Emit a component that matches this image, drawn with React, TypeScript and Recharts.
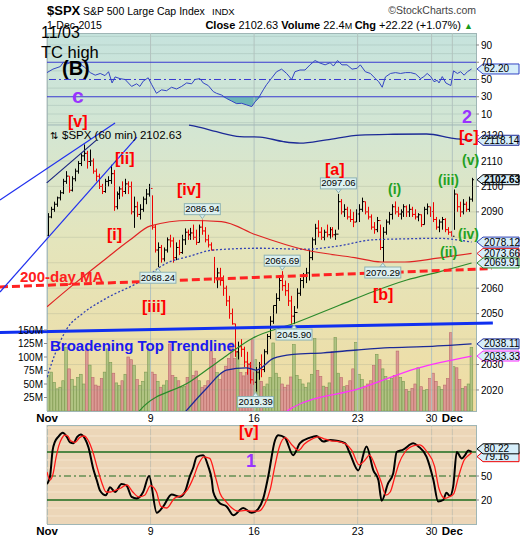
import React from "react";
import {
  ComposedChart,
  Line,
  Bar,
  Area,
  XAxis,
  YAxis,
  ReferenceLine,
  ReferenceDot
} from "recharts";

const FONT = '"Liberation Sans", Arial, sans-serif';

// 60 min bars, Nov 2 - Dec 1 2015 (7 per session, 4 on Nov 27)
const barHigh = [
  2089.5, 2092, 2094, 2096, 2098.5, 2103, 2106,
  2104, 2104, 2107, 2110, 2113, 2116.5, 2114,
  2114.5, 2111, 2107, 2105, 2101, 2103, 2104,
  2108.5, 2106.5, 2098, 2100, 2102, 2103, 2102,
  2101.9, 2096, 2094, 2093, 2096, 2099, 2101,
  2096.5, 2085, 2078, 2077, 2076, 2080, 2081,
  2080, 2078, 2079, 2081, 2083.5, 2083, 2083.7,
  2085, 2083, 2085, 2086.94, 2084, 2081, 2078,
  2072.3, 2068, 2068, 2065, 2061, 2057, 2052,
  2046, 2039, 2040, 2037, 2035, 2031, 2027,
  2029, 2031, 2034, 2036, 2042, 2049, 2053.2,
  2058, 2064, 2066.69, 2063, 2062, 2057, 2053,
  2060, 2064, 2066, 2068, 2075, 2080, 2085.3,
  2086.7, 2084, 2083, 2085, 2084, 2084, 2083,
  2097.06, 2095, 2093, 2092, 2091, 2090, 2091,
  2093, 2095.6, 2094, 2092, 2089, 2086, 2088,
  2085, 2084, 2087, 2090, 2093, 2094.1, 2092,
  2091, 2093, 2092.5, 2093, 2092, 2091, 2089.5,
  2089, 2092, 2093.3, 2092,
  2093.8, 2088, 2087, 2088, 2087.5, 2084, 2082.5,
  2098.8, 2097, 2094, 2095, 2094, 2096, 2103.37
];
const barLow = [
  2080.5, 2087.5, 2090, 2092, 2094.5, 2097, 2101,
  2097.5, 2098, 2102, 2105, 2108, 2110, 2107,
  2108, 2105, 2102, 2099, 2097, 2097.5, 2100,
  2101, 2090.4, 2091, 2095, 2096, 2097, 2097,
  2089, 2083.7, 2088, 2087, 2090, 2093, 2096,
  2083, 2074, 2068.24, 2070, 2070.5, 2074, 2076,
  2070, 2071, 2073, 2073.5, 2077, 2079, 2079,
  2079, 2077, 2078, 2081, 2078, 2076, 2074.85,
  2062, 2060, 2061, 2057, 2053, 2048, 2045.66,
  2033, 2032, 2033, 2029, 2026, 2022.5, 2022,
  2019.39, 2024, 2025, 2027, 2034, 2040, 2046,
  2050, 2055, 2059, 2057, 2053, 2046, 2045.9,
  2052, 2057, 2060, 2062, 2063, 2071, 2077,
  2080, 2079, 2078.8, 2080, 2079.5, 2080, 2079,
  2083, 2089, 2088, 2087, 2086, 2084, 2086,
  2086, 2090, 2089, 2087, 2083, 2081.4, 2082,
  2075, 2070.29, 2081, 2085, 2087, 2089, 2088,
  2087, 2088, 2088, 2088, 2088, 2087, 2086.3,
  2084.1, 2085, 2089, 2088,
  2086, 2083, 2082, 2083, 2082, 2081, 2080.41,
  2082.93, 2090, 2088, 2089, 2090, 2090, 2094
];
const barClose = [
  2088, 2091, 2093, 2095.5, 2097.5, 2102, 2104.05,
  2098.5, 2103, 2106, 2109, 2112, 2113, 2109.79,
  2110, 2106, 2104, 2100, 2098, 2102, 2102.31,
  2105, 2092, 2097, 2099, 2098, 2101, 2099.93,
  2090, 2092, 2089, 2091, 2095, 2097, 2099.2,
  2084, 2075, 2076, 2071.5, 2075, 2079, 2078.58,
  2072, 2076, 2074, 2079, 2082, 2081, 2081.72,
  2080, 2078, 2084, 2082.5, 2079, 2077, 2075,
  2064, 2066, 2063, 2060, 2055, 2050, 2045.97,
  2035, 2037, 2036, 2031, 2030, 2024, 2023.04,
  2027, 2030, 2028, 2035, 2041, 2047, 2053.19,
  2056, 2063, 2061, 2059, 2055, 2049, 2050.44,
  2058, 2063, 2065, 2066, 2072, 2079, 2083.58,
  2082, 2080, 2082, 2081, 2083, 2081, 2081.24,
  2094, 2090, 2091, 2088, 2087, 2086, 2089.17,
  2091, 2094, 2090, 2088, 2084, 2083, 2086.59,
  2076, 2082, 2086, 2089, 2092, 2090, 2089.14,
  2090, 2092, 2090, 2091, 2089, 2088, 2088.87,
  2085, 2091, 2092, 2090.11,
  2087, 2084, 2086, 2087, 2083, 2082, 2080.41,
  2097, 2092, 2090, 2093, 2091, 2095, 2102.63
];
const firstOpen = 2080.76;

// volume per bar, millions
const volume = [
  66, 72, 53, 41, 44, 56, 118,
  78, 58, 46, 62, 68, 50, 115,
  85, 62, 48, 46, 60, 72, 115,
  90, 70, 52, 47, 56, 68, 100,
  95, 84, 58, 47, 55, 72, 115,
  72, 68, 55, 44, 48, 56, 124,
  66, 62, 56, 44, 46, 62, 112,
  66, 74, 56, 44, 47, 56, 110,
  97, 71, 58, 71, 83, 97, 126,
  97, 108, 71, 65, 71, 88, 132,
  95, 70, 55, 45, 50, 62, 126,
  70, 62, 50, 44, 48, 63, 123,
  66, 58, 50, 44, 52, 68, 134,
  75, 64, 46, 44, 52, 110, 136,
  70, 62, 45, 47, 56, 78, 127,
  68, 58, 46, 50, 56, 84, 105,
  95, 78, 64, 56, 60, 66, 111,
  62, 55, 40, 36, 42, 50, 80,
  45, 38, 40, 60,
  70, 55, 45, 40, 48, 60, 145,
  82, 80, 58, 42, 45, 50, 118
];

const dayTicks = [0, 35, 70, 105, 130, 137];
const dayLabels = ["Nov", "9", "16", "23", "30", "Dec"];
const priceTicks = [2020, 2030, 2050, 2060, 2090, 2100, 2110, 2120];
const priceGrid = [2020, 2030, 2040, 2050, 2060, 2070, 2080, 2090, 2100, 2110];
const rsiTicks = [10, 30, 50, 70, 90];
const volTicks = [25, 50, 75, 100, 125, 150];
const stoTicks = [20, 50];

// indicator lines as [bar position, value]
const rsi14 = [
  [0, 58], [2, 62], [4.5, 65], [5.5, 70], [6.7, 68], [7.9, 69.5], [9.5, 69], [11.2, 68],
  [12.8, 64], [14.6, 58], [16.3, 55], [18, 57], [19.6, 54.5], [20.8, 59], [22, 46], [23, 53],
  [24.7, 51], [26.4, 50], [27.5, 46], [28.6, 42], [30.3, 45], [31.4, 42], [32.5, 48], [34.2, 52],
  [35.4, 44], [37, 34], [38.7, 38], [40.4, 37], [42.1, 41], [43.8, 39], [45.5, 42], [47.2, 46],
  [48.9, 45], [50, 50], [51.7, 51], [52.8, 46], [54.5, 43], [56.2, 36], [57.3, 34], [59, 32],
  [60.7, 28], [62.4, 25], [64.1, 22], [65.8, 22.4], [67.5, 20.5], [69.2, 18.6], [70.3, 24],
  [71.4, 28], [73.1, 38], [74.2, 44], [75.9, 51.5], [77.6, 59], [79.3, 62], [81, 57], [82.7, 50],
  [83.8, 59], [85.5, 61], [87.2, 61], [88.9, 67], [90.6, 72], [92.3, 69], [94, 67], [95.7, 69.5],
  [96.8, 65.6], [98.2, 72], [99.7, 67], [101.4, 67], [103.1, 62], [104.8, 63], [105.9, 67],
  [107.6, 59], [109.3, 57], [111, 51], [112.1, 47.5], [113.3, 41], [114.4, 53], [116.1, 57],
  [117.8, 58], [119.5, 57], [121.2, 58], [122.9, 58], [124.6, 56.4], [126.3, 51], [127.4, 53.4],
  [128.5, 57], [129.7, 53.4], [130.8, 47.5], [131.9, 49], [132.5, 46], [133.6, 53.4], [134.8, 46],
  [135.9, 44], [136.5, 43], [137.4, 60], [138.7, 57], [139.8, 59], [141, 55], [142.1, 59],
  [143.5, 62.2]
];
const maRed = [
  [0, 2052.7], [8.8, 2061.3], [20, 2071.7], [28, 2078.9], [35, 2084.5], [48, 2086.6],
  [59, 2086.2], [70.6, 2081], [87.4, 2075], [104, 2072], [113, 2070.3], [121, 2070.3],
  [132, 2071.8], [143.5, 2073.66]
];
const maDotted = [
  [0, 2025], [3, 2035], [6.7, 2044], [12, 2050], [20, 2056], [31.4, 2062.6], [40.4, 2069.8],
  [48, 2072.5], [56.2, 2075], [72, 2075.7], [87.4, 2075.3], [98, 2076.5], [110, 2079],
  [121, 2079.4], [132, 2079.6], [143.5, 2078.12]
];
const maGreen = [
  [28, 2005], [31.4, 2012], [48.3, 2023.2], [59.5, 2032.5], [69.6, 2040.4], [83.1, 2046],
  [99, 2053.4], [110.2, 2058.6], [121.6, 2063.2], [132.8, 2066.5], [143.5, 2069.91]
];
const bandTop = [
  [48, 2124.1], [50.6, 2123.5], [57.3, 2121.5], [65.2, 2119.6], [72, 2119.4], [79.9, 2117.6],
  [85.5, 2117], [94.5, 2118.3], [105.8, 2120.2], [117, 2120.5], [128.3, 2120.6],
  [137.3, 2118.9], [143.5, 2118.14]
];
const bandLow = [
  [45, 2009], [53.9, 2020.6], [60.6, 2027.8], [67.3, 2028.7], [70.7, 2027.8], [76.5, 2032.4],
  [83.2, 2034], [93.4, 2034.6], [104.7, 2035.7], [115.9, 2036.6], [127.2, 2037], [143.5, 2038.11]
];
const maPink = [
  [81, 2011.5], [82.7, 2012.9], [105.8, 2020.6], [125, 2028.5], [143.5, 2033.33]
];
const stoK = [
  [0, 40], [1, 49], [1.9, 82], [2.7, 93], [3.8, 99], [5.3, 104], [6.7, 99], [7.8, 92], [8.9, 91],
  [10.2, 99], [11.4, 102], [12.8, 97], [14, 86], [15.7, 58], [16.8, 45], [17.9, 32], [19.9, 26],
  [21.3, 36], [23, 30], [25.2, 40], [26.9, 38], [28.6, 24], [30.3, 22], [32.5, 30], [34.5, 50],
  [37.1, 4], [39.3, 12], [42.1, 27], [44.9, 24], [46.6, 30], [48.3, 50], [49.4, 60], [50.6, 74],
  [52.8, 76], [54.5, 62], [55.7, 45], [56.2, 30], [58.4, 16], [60.7, 12], [63, 1], [66.3, 10],
  [69.2, 4], [71.4, 9], [73.1, 22], [74.8, 50], [77.1, 95], [78.2, 101], [80.4, 98], [83.2, 76],
  [85.5, 91], [88.9, 98], [91.1, 100], [93.4, 93], [95.6, 95], [97.9, 94], [100.7, 91],
  [102.4, 78], [105.2, 57], [108, 87], [110.3, 57], [112, 45], [113.1, 19], [115.3, 41],
  [117, 53], [118.2, 80], [120.4, 83], [123.8, 91], [125.5, 87], [128.3, 74], [130.6, 45],
  [132.2, 18], [133.9, 20], [135, 29], [136.2, 25], [137.3, 37], [138.5, 80], [140.2, 72],
  [141.3, 76], [142.4, 82], [143.5, 80.22]
];
const stoD = [
  [0, 55], [1, 45], [2, 52], [3, 72], [4, 88], [5, 97], [6, 101], [7, 100], [8, 94], [9.5, 92],
  [11, 98], [12.5, 100], [14, 94], [15.5, 80], [17, 60], [18.5, 42], [20, 30], [21.5, 30],
  [23, 32], [25, 35], [27, 39], [29, 30], [31, 24], [33, 26], [35, 38], [37, 30], [38.5, 12],
  [40.5, 10], [43, 22], [45.5, 26], [47.5, 33], [49.5, 48], [51, 63], [53, 74], [55, 72],
  [57, 48], [58.5, 28], [60.5, 18], [62.5, 10], [64.5, 6], [67, 7], [69.5, 6], [71.5, 6],
  [73.5, 14], [75.5, 34], [77, 62], [78.5, 86], [80.5, 98], [83, 88], [85, 82], [87, 90],
  [89.5, 96], [91.5, 99], [94, 96], [96, 94], [98.5, 93], [101, 90], [103, 82], [105.5, 64],
  [107.5, 70], [109, 76], [111, 62], [113, 42], [114.5, 26], [116, 30], [117.5, 48], [119, 66],
  [121, 80], [124, 88], [126, 89], [128.5, 80], [131, 62], [132.5, 34], [134.5, 22], [136, 24],
  [137.5, 28], [139, 48], [141, 70], [142.5, 76], [143.5, 79.16]
];

// hand drawn lines: [[x1, y1], [x2, y2]] in bar position / price
const broadening = [[-15.9, 2042.6], [150.7, 2046.3]];
const dayMa200 = [[-15.9, 2060.5], [150.4, 2067.7]];
const wedgeUpper = [[-15.9, 2094.7], [23, 2124.9]];
const wedgeLower = [[-15.9, 2058.5], [30.4, 2119.4]];
const wedgeMid = [[-0.1, 2101.4], [16.8, 2118.3]];

// price callouts: bar number, true = on the high
const callouts: [number, boolean][] = [
  [52, true], [37, false], [79, true], [83, false], [70, false], [98, true], [113, false]
];

const ohlc = barClose.map((c, k) => {
  const open = k === 0 ? firstOpen : barClose[k - 1];
  return {
    i: k + 0.5,
    open,
    high: barHigh[k],
    low: barLow[k],
    close: c,
    hl: [barLow[k], barHigh[k]],
    vol: volume[k],
    up: c >= open
  };
});
const pts = (arr: number[][]) => arr.map(([i, v]) => ({ i, v }));
const rsiRows = rsi14.map(([i, v]) => ({ i, v, under: [Math.min(v, 30), 30] }));
const last = (arr: number[][]) => arr[arr.length - 1][1];
const lastClose = barClose[barClose.length - 1];
const chg = lastClose - barClose[barClose.length - 8];

const OhlcShape = (p: any) => {
  const { x, y, width, height, payload } = p;
  if (x == null || y == null) return null;
  const top = Math.min(y, y + height);
  const h = Math.abs(height);
  const span = payload.high - payload.low || 1;
  const yOf = (v: number) => top + ((payload.high - v) / span) * h;
  const cx = Math.round(x + width / 2) + 0.5;
  const color = payload.up ? "#000" : "#ee0000";
  return (
    <g stroke={color} strokeWidth={1}>
      <line x1={cx} x2={cx} y1={top} y2={top + Math.max(h, 1)} />
      <line x1={cx - 1.5} x2={cx} y1={yOf(payload.open)} y2={yOf(payload.open)} />
      <line x1={cx} x2={cx + 1.5} y1={yOf(payload.close)} y2={yOf(payload.close)} />
    </g>
  );
};

const VolShape = (p: any) => {
  const { x, y, width, height, payload } = p;
  if (x == null || !height) return null;
  return (
    <rect
      x={x}
      y={y}
      width={width}
      height={height}
      fill={payload.up ? "#a8c07e" : "#d99292"}
      stroke={payload.up ? "#7d9a52" : "#bb6c6c"}
      strokeWidth={0.6}
      fillOpacity={0.9}
    />
  );
};

const DateTick = (p: any) => {
  const { x, y, payload } = p;
  const k = dayTicks.indexOf(payload.value);
  const month = k === 0 || k === dayTicks.length - 1;
  return (
    <text
      x={x}
      y={y + 11}
      textAnchor="middle"
      fontSize={month ? 11.5 : 10.5}
      fontWeight={month ? "bold" : "normal"}
      fill="#000"
    >
      {dayLabels[k]}
    </text>
  );
};

const tagShape = (text: string, border: string, bold = false, dy = 0) => (p: any) => {
  const x = p.cx + 1;
  const y = p.cy + dy;
  const pts = `${x},${y} ${x + 6},${y - 5} ${x + 42},${y - 5} ${x + 42},${y + 5} ${x + 6},${y + 5}`;
  return (
    <g>
      <polygon points={pts} fill="#d6eefa" stroke={border} strokeWidth={1} />
      <text x={x + 7} y={y + 3.5} fontSize={10} fontWeight={bold ? "bold" : "normal"} fill="#000">
        {text}
      </text>
    </g>
  );
};

const calloutShape = (text: string, above: boolean) => (p: any) => {
  const { cx, cy } = p;
  const w = 36;
  const h = 11;
  const bx = cx - w / 2;
  const by = above ? cy - 5 - h : cy + 5;
  const tri = above
    ? `${cx - 3},${by + h} ${cx},${cy - 1} ${cx + 3},${by + h}`
    : `${cx - 3},${by} ${cx},${cy + 1} ${cx + 3},${by}`;
  return (
    <g>
      <polygon points={tri} fill="#d8eeee" stroke="#8fb3b3" />
      <rect x={bx} y={by} width={w} height={h} fill="#dcf0f0" stroke="#8fb3b3" />
      <text x={cx} y={by + 8.6} textAnchor="middle" fontSize={9.5} fill="#000">
        {text}
      </text>
    </g>
  );
};

const axisTick = { fontSize: 10, fill: "#000" };

export default function App() {
  const segment = (s: number[][], stroke: string, width: number, dash?: string) => (
    <ReferenceLine
      xAxisId="x"
      yAxisId="p"
      ifOverflow="visible"
      segment={[{ x: s[0][0], y: s[0][1] }, { x: s[1][0], y: s[1][1] }]}
      stroke={stroke}
      strokeWidth={width}
      strokeDasharray={dash}
    />
  );

  return (
    <div
      style={{
        position: "absolute",
        left: 0,
        top: 0,
        width: 520,
        height: 540,
        background: "#fff",
        fontFamily: FONT,
        overflow: "hidden"
      }}
    >
      {/* panel backgrounds */}
      <div
        style={{
          position: "absolute",
          left: 47,
          top: 33,
          width: 430,
          height: 379,
          boxSizing: "border-box",
          border: "1px solid #9fb6b6",
          background: "linear-gradient(#c6e3dd 0%, #d3e6d3 25%, #e4e5bc 55%, #f0dca2 100%)"
        }}
      />
      <div
        style={{
          position: "absolute",
          left: 47,
          top: 425,
          width: 430,
          height: 100,
          boxSizing: "border-box",
          border: "1px solid #9fb6b6",
          background: "#ecd6b8"
        }}
      />

      {/* RSI(14) */}
      <div style={{ position: "absolute", left: 0, top: 0 }}>
        <ComposedChart width={520} height={125} margin={{ top: 33, right: 0, bottom: 0, left: 47 }}>
          <XAxis xAxisId="x" dataKey="i" type="number" domain={[0, 145]} allowDataOverflow hide />
          <YAxis
            yAxisId="a"
            orientation="right"
            width={44}
            domain={[-2.75, 103.9]}
            allowDataOverflow
            ticks={rsiTicks}
            interval={0}
            tickSize={3}
            tickMargin={2}
            axisLine={false}
            tickLine={{ stroke: "#888" }}
            tick={axisTick}
          />
          {[0, 10, 20, 40, 60, 80, 90, 100].map((v) => (
            <ReferenceLine key={`rg${v}`} xAxisId="x" yAxisId="a" y={v} stroke="rgba(140,165,160,0.3)" />
          ))}
          {dayTicks.map((t) => (
            <ReferenceLine key={`rv${t}`} xAxisId="x" yAxisId="a" x={t} stroke="#b3c3bf" />
          ))}
          <ReferenceLine xAxisId="x" yAxisId="a" y={70} stroke="#3a3ad0" strokeWidth={1.2} />
          <ReferenceLine xAxisId="x" yAxisId="a" y={30} stroke="#3a3ad0" strokeWidth={1.2} />
          <ReferenceLine xAxisId="x" yAxisId="a" y={50} stroke="#3a3ad0" strokeDasharray="7 3 2 3" />
          <Area
            xAxisId="x"
            yAxisId="a"
            data={rsiRows}
            dataKey="under"
            type="linear"
            stroke="none"
            fill="#5aaeb2"
            fillOpacity={0.85}
            isAnimationActive={false}
          />
          <Line xAxisId="x" yAxisId="a" data={rsiRows} dataKey="v" type="linear" stroke="#3344c4" strokeWidth={1} dot={false} isAnimationActive={false} />
          <ReferenceDot xAxisId="x" yAxisId="a" x={145} y={last(rsi14)} ifOverflow="visible" shape={tagShape(last(rsi14).toFixed(2), "#3344c4")} />
        </ComposedChart>
      </div>

      {/* price + volume */}
      <div style={{ position: "absolute", left: 0, top: 0 }}>
        <ComposedChart width={520} height={430} data={ohlc} margin={{ top: 33, right: 0, bottom: 0, left: 0 }}>
          <XAxis
            xAxisId="x"
            dataKey="i"
            type="number"
            domain={[0, 145]}
            allowDataOverflow
            ticks={dayTicks}
            interval={0}
            height={19}
            tickLine={false}
            axisLine={false}
            tickSize={0}
            tickMargin={0}
            tick={<DateTick />}
          />
          <XAxis xAxisId="xv" dataKey="i" type="number" domain={[0, 145]} allowDataOverflow hide />
          <YAxis
            yAxisId="vol"
            orientation="left"
            width={47}
            domain={[0, 700]}
            allowDataOverflow
            ticks={volTicks}
            interval={0}
            tickFormatter={(v) => `${v}M`}
            tickSize={3}
            tickMargin={1}
            axisLine={false}
            tickLine={{ stroke: "#888" }}
            tick={axisTick}
          />
          <YAxis
            yAxisId="p"
            orientation="right"
            width={44}
            domain={[2011.73, 2160.3]}
            allowDataOverflow
            ticks={priceTicks}
            interval={0}
            tickSize={3}
            tickMargin={2}
            axisLine={false}
            tickLine={{ stroke: "#888" }}
            tick={axisTick}
          />

          {dayTicks.map((t) => (
            <ReferenceLine
              key={`v${t}`}
              xAxisId="x"
              yAxisId="p"
              segment={[{ x: t, y: 2011.73 }, { x: t, y: 2124.15 }]}
              stroke="#b3c3bf"
              strokeWidth={1}
            />
          ))}
          {priceGrid.map((v) => (
            <ReferenceLine key={`pg${v}`} xAxisId="x" yAxisId="p" y={v} stroke="rgba(150,160,140,0.25)" />
          ))}
          <ReferenceLine xAxisId="x" yAxisId="p" y={2124.15} stroke="#9fb6b6" />

          <Bar xAxisId="xv" yAxisId="vol" dataKey="vol" barSize={3} shape={VolShape} isAnimationActive={false} />

          <Line xAxisId="x" yAxisId="p" data={pts(bandLow)} dataKey="v" type="monotone" stroke="#1c2a96" strokeWidth={1.3} dot={false} isAnimationActive={false} />
          <Line xAxisId="x" yAxisId="p" data={pts(maPink)} dataKey="v" type="monotone" stroke="#ff33ff" strokeWidth={1.3} dot={false} isAnimationActive={false} />
          <Line xAxisId="x" yAxisId="p" data={pts(maGreen)} dataKey="v" type="monotone" stroke="#2b8a2b" strokeWidth={1.2} dot={false} isAnimationActive={false} />
          <Line xAxisId="x" yAxisId="p" data={pts(maDotted)} dataKey="v" type="monotone" stroke="#3242b4" strokeWidth={1.3} strokeDasharray="2 2" dot={false} isAnimationActive={false} />
          <Line xAxisId="x" yAxisId="p" data={pts(maRed)} dataKey="v" type="monotone" stroke="#e02424" strokeWidth={1.2} dot={false} isAnimationActive={false} />
          <Line xAxisId="x" yAxisId="p" data={pts(bandTop)} dataKey="v" type="monotone" stroke="#1c2a96" strokeWidth={1.3} dot={false} isAnimationActive={false} />

          <Bar xAxisId="x" yAxisId="p" dataKey="hl" barSize={3} shape={OhlcShape} isAnimationActive={false} />

          {segment(dayMa200, "#ff2222", 3, "8 4")}
          {segment(broadening, "#1030f0", 3)}
          {segment(wedgeUpper, "#2030ee", 1.2)}
          {segment(wedgeLower, "#2030ee", 1.2)}
          {segment(wedgeMid, "#1a2480", 1.2)}

          {callouts.map(([k, hi]) => (
            <ReferenceDot
              key={`c${k}`}
              xAxisId="x"
              yAxisId="p"
              x={k + 0.5}
              y={hi ? barHigh[k] : barLow[k]}
              ifOverflow="visible"
              shape={calloutShape((hi ? barHigh[k] : barLow[k]).toFixed(2), hi)}
            />
          ))}

          <ReferenceDot xAxisId="x" yAxisId="p" x={145} y={last(bandTop)} ifOverflow="visible" shape={tagShape(last(bandTop).toFixed(2), "#1c2a96")} />
          <ReferenceDot xAxisId="x" yAxisId="p" x={145} y={lastClose} ifOverflow="visible" shape={tagShape(lastClose.toFixed(2), "#000", true)} />
          <ReferenceDot xAxisId="x" yAxisId="p" x={145} y={last(maDotted)} ifOverflow="visible" shape={tagShape(last(maDotted).toFixed(2), "#3242b4")} />
          <ReferenceDot xAxisId="x" yAxisId="p" x={145} y={last(maRed)} ifOverflow="visible" shape={tagShape(last(maRed).toFixed(2), "#e02424")} />
          <ReferenceDot xAxisId="x" yAxisId="p" x={145} y={last(maGreen)} ifOverflow="visible" shape={tagShape(last(maGreen).toFixed(2), "#2b8a2b")} />
          <ReferenceDot xAxisId="x" yAxisId="p" x={145} y={last(bandLow)} ifOverflow="visible" shape={tagShape(last(bandLow).toFixed(2), "#1c2a96")} />
          <ReferenceDot xAxisId="x" yAxisId="p" x={145} y={last(maPink)} ifOverflow="visible" shape={tagShape(last(maPink).toFixed(2), "#ff33ff")} />
        </ComposedChart>
      </div>

      {/* slow stochastics */}
      <div style={{ position: "absolute", left: 0, top: 420 }}>
        <ComposedChart width={520} height={120} margin={{ top: 5, right: 0, bottom: 0, left: 47 }}>
          <XAxis
            xAxisId="x"
            dataKey="i"
            type="number"
            domain={[0, 145]}
            allowDataOverflow
            ticks={dayTicks}
            interval={0}
            height={16}
            tickLine={false}
            axisLine={false}
            tickSize={0}
            tickMargin={0}
            tick={<DateTick />}
          />
          <YAxis
            yAxisId="s"
            orientation="right"
            width={44}
            domain={[-10, 113.75]}
            allowDataOverflow
            ticks={stoTicks}
            interval={0}
            tickSize={3}
            tickMargin={2}
            axisLine={false}
            tickLine={{ stroke: "#888" }}
            tick={axisTick}
          />
          {dayTicks.map((t) => (
            <ReferenceLine key={`sv${t}`} xAxisId="x" yAxisId="s" x={t} stroke="#c8c2b0" />
          ))}
          {[0, 10, 30, 40, 60, 70, 90, 100, 110].map((v) => (
            <ReferenceLine key={`sg${v}`} xAxisId="x" yAxisId="s" y={v} stroke="#f4e4cc" />
          ))}
          <ReferenceLine xAxisId="x" yAxisId="s" y={80} stroke="#1e6b1e" strokeWidth={1.3} />
          <ReferenceLine xAxisId="x" yAxisId="s" y={20} stroke="#1e6b1e" strokeWidth={1.3} />
          <ReferenceLine xAxisId="x" yAxisId="s" y={50} stroke="#1e6b1e" strokeDasharray="7 3 2 3" />
          <Line xAxisId="x" yAxisId="s" data={pts(stoK)} dataKey="v" type="monotone" stroke="#000" strokeWidth={2} dot={false} isAnimationActive={false} />
          <Line xAxisId="x" yAxisId="s" data={pts(stoD)} dataKey="v" type="monotone" stroke="#ff1a1a" strokeWidth={1.3} dot={false} isAnimationActive={false} />
          <ReferenceDot xAxisId="x" yAxisId="s" x={145} y={last(stoD)} ifOverflow="visible" shape={tagShape(last(stoD).toFixed(2), "#ee0000", false, 4)} />
          <ReferenceDot xAxisId="x" yAxisId="s" x={145} y={last(stoK)} ifOverflow="visible" shape={tagShape(last(stoK).toFixed(2), "#000", false, -3)} />
        </ComposedChart>
      </div>

      {/* header and wave annotations */}
      <svg width={520} height={540} style={{ position: "absolute", left: 0, top: 0, pointerEvents: "none" }}>
        <text x={47} y={15} fontSize={13} fontWeight="bold">$SPX</text>
        <text x={83} y={15} fontSize={10.5}>S&amp;P 500 Large Cap Index</text>
        <text x={212} y={15} fontSize={9.5}>INDX</text>
        <text x={476} y={14} fontSize={10.5} textAnchor="end" fill="#444">©StockCharts.com</text>
        <text x={47} y={29} fontSize={10.5}>1-Dec-2015</text>
        <text x={473} y={29} fontSize={11} textAnchor="end">
          <tspan fontWeight="bold">Close</tspan>
          <tspan>{` ${lastClose.toFixed(2)} `}</tspan>
          <tspan fontWeight="bold">Volume</tspan>
          <tspan> 22.4</tspan>
          <tspan fontSize={9}>M </tspan>
          <tspan fontWeight="bold">Chg</tspan>
          <tspan>{` +${chg.toFixed(2)} (+${((chg / (lastClose - chg)) * 100).toFixed(2)}%) `}</tspan>
          <tspan fill="#1a9a1a" fontSize={9}>▲</tspan>
        </text>

        <text x={41} y={38} fontSize={16}>11/03</text>
        <text x={41} y={58} fontSize={16.5}>TC high</text>
        <text x={62} y={75} fontSize={20} fontWeight="bold">(B)</text>
        <text x={72} y={103} fontSize={21} fontWeight="bold" fill="#9933ff">c</text>
        <text x={462} y={123} fontSize={18} fontWeight="bold" fill="#9933ff">2</text>

        <text x={50} y={139} fontSize={10}>⇅</text>
        <text x={62} y={139} fontSize={11.5}>{`$SPX (60 min) ${lastClose.toFixed(2)}`}</text>

        <g fontWeight="bold" fontSize={16} fill="#ff0000">
          <text x={68} y={126.5}>[v]</text>
          <text x={115} y={164}>[ii]</text>
          <text x={107} y={240}>[i]</text>
          <text x={177} y={195}>[iv]</text>
          <text x={142} y={312}>[iii]</text>
          <text x={325} y={175}>[a]</text>
          <text x={373} y={300}>[b]</text>
          <text x={459} y={142}>[c]</text>
          <text x={239} y={437}>[v]</text>
        </g>
        <g fontWeight="bold" fontSize={14} fill="#22a022">
          <text x={388} y={194}>(i)</text>
          <text x={440} y={257}>(ii)</text>
          <text x={438} y={185}>(iii)</text>
          <text x={458} y={239}>(iv)</text>
          <text x={462} y={165}>(v)</text>
        </g>
        <text x={246} y={467} fontSize={18} fontWeight="bold" fill="#9933ff">1</text>
        <text x={20} y={282} fontSize={15} fontWeight="bold" fill="#ff2020">200-day MA</text>
        <text x={50} y={351} fontSize={15} fontWeight="bold" fill="#1a1aee">Broadening Top Trendline</text>
      </svg>
    </div>
  );
}
